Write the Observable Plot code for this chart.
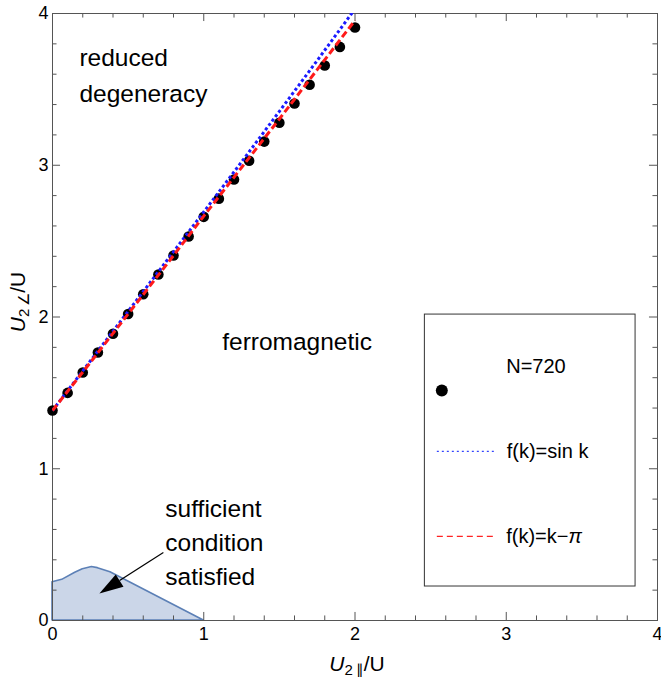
<!DOCTYPE html>
<html><head><meta charset="utf-8">
<script src="https://cdn.jsdelivr.net/npm/d3@7"></script>
<script src="https://cdn.jsdelivr.net/npm/@observablehq/plot@0.6"></script>
<style>
body{margin:0;background:#fff;font-family:"Liberation Sans",Arial,sans-serif}
#chart{position:relative;width:661px;height:677px}
</style>
</head><body><div id="chart"></div>
<script>
// N=720 numerical points
const pointsX = [0,0.1,0.2,0.3,0.4,0.5,0.6,0.7,0.8,0.9,1.0,1.1,1.2,1.3,1.4,1.5,1.6,1.7,1.8,1.9,2.0];
const pointsY = [1.384,1.50,1.634,1.766,1.89,2.02,2.15,2.28,2.405,2.53,2.66,2.78,2.906,3.03,3.156,3.28,3.407,3.53,3.657,3.78,3.908];
// f(k)=sin k
const sinX = [0,0.25,0.5,0.75,1.0,1.25,1.5,1.75,2.0];
const sinY = [1.384,1.71,2.037,2.364,2.692,3.022,3.355,3.69,4.03];
// f(k)=k-pi
const linX = [0,0.25,0.5,0.75,1.0,1.25,1.5,1.75,2.0];
const linY = [1.384,1.70,2.02,2.34,2.665,2.985,3.305,3.63,3.955];
// sufficient-condition region boundary
const regionX = [0,0.064,0.15,0.2,0.26,0.3,0.383,1.0];
const regionY = [0.252,0.268,0.315,0.338,0.352,0.345,0.318,0];
// ticks
const majorTicks = [0,1,2,3,4];
const tickLabels = ["0","1","2","3","4"];
const minorTicks = [0.2,0.4,0.6,0.8,1.2,1.4,1.6,1.8,2.2,2.4,2.6,2.8,3.2,3.4,3.6,3.8];

const points = pointsX.map((x,i)=>({x, y: pointsY[i]}));
const sinLine = sinX.map((x,i)=>({x, y: sinY[i]}));
const linLine = linX.map((x,i)=>({x, y: linY[i]}));
const region = regionX.map((x,i)=>({x, y: regionY[i]}));

const FONT = '"Liberation Sans", Arial, sans-serif';
const frameColor = "#555";
const MJ = 0.053, MN = 0.03;

const arrowHead = {
  draw(ctx, l, r) {
    ctx.moveTo(0, -l);
    ctx.lineTo(-r, 0);
    ctx.lineTo(r, 0);
    ctx.closePath();
  }
};
const tail = {x: 0.733, y: 0.448};
const tip = {x: 0.31, y: 0.178};
const ang = Math.atan2(tip.x - tail.x, tip.y - tail.y) * 180 / Math.PI;
const headLen = 24 / 151.5;
const len = Math.hypot(tip.x - tail.x, tip.y - tail.y);
const base = {x: tip.x - (tip.x - tail.x) / len * headLen, y: tip.y - (tip.y - tail.y) / len * headLen};

const chart = Plot.plot({
  width: 661, height: 677,
  marginLeft: 52, marginRight: 4, marginTop: 13, marginBottom: 57,
  style: {fontFamily: FONT, fontSize: "18px", color: "#000", background: "#fff"},
  x: {domain: [0,4], ticks: majorTicks, tickFormat: (d,i)=>tickLabels[i], label: null},
  y: {domain: [0,4], ticks: majorTicks, tickFormat: (d,i)=>tickLabels[i], label: null},
  marks: [
    // region
    Plot.areaY(region, {x: "x", y: "y", fill: "#cbd6e8", stroke: "#5c80b6", strokeWidth: 1.6}),
    // frame ticks
    Plot.ruleX(majorTicks, {x: d=>d, y1: 0, y2: MJ, stroke: frameColor}),
    Plot.ruleX(minorTicks, {x: d=>d, y1: 0, y2: MN, stroke: frameColor}),
    Plot.ruleX(majorTicks, {x: d=>d, y1: 4, y2: 4-MJ, stroke: frameColor}),
    Plot.ruleX(minorTicks, {x: d=>d, y1: 4, y2: 4-MN, stroke: frameColor}),
    Plot.ruleY(majorTicks, {y: d=>d, x1: 0, x2: MJ, stroke: frameColor}),
    Plot.ruleY(minorTicks, {y: d=>d, x1: 0, x2: MN, stroke: frameColor}),
    Plot.ruleY(majorTicks, {y: d=>d, x1: 4, x2: 4-MJ, stroke: frameColor}),
    Plot.ruleY(minorTicks, {y: d=>d, x1: 4, x2: 4-MN, stroke: frameColor}),
    Plot.frame({stroke: frameColor}),
    Plot.axisX({ticks: majorTicks, tickSize: 0, tickPadding: 7, fontSize: 18, label: null, tickFormat: (d,i)=>tickLabels[i]}),
    Plot.axisY({ticks: majorTicks, tickSize: 0, tickPadding: 4, fontSize: 18, label: null, tickFormat: (d,i)=>tickLabels[i]}),
    // data
    Plot.dot(points, {x: "x", y: "y", r: 5.3, fill: "#000"}),
    Plot.line(sinLine, {x: "x", y: "y", stroke: "#1a1aff", strokeWidth: 3, strokeDasharray: "3,2.5", strokeLinecap: "butt", clip: true}),
    Plot.line(linLine, {x: "x", y: "y", stroke: "#ff1a1a", strokeWidth: 3, strokeDasharray: "7,3.5", strokeLinecap: "butt", clip: true}),
    // annotations
    Plot.text(["reduced\ndegeneracy"], {x: 0.178, y: 3.822, text: d=>d, textAnchor: "start", lineAnchor: "top", lineHeight: 1.46, fontSize: 24.5, fill: "#000"}),
    Plot.text(["ferromagnetic"], {x: 1.122, y: 1.90, text: d=>d, textAnchor: "start", lineAnchor: "top", fontSize: 24.5, fill: "#000"}),
    Plot.text(["sufficient\ncondition\nsatisfied"], {x: 0.746, y: 0.844, text: d=>d, textAnchor: "start", lineAnchor: "top", lineHeight: 1.4, fontSize: 24.5, fill: "#000"}),
    Plot.link([0], {x1: tail.x, y1: tail.y, x2: base.x, y2: base.y, stroke: "#000", strokeWidth: 1.2}),
    Plot.vector([0], {x: tip.x, y: tip.y, anchor: "end", length: 24, rotate: ang, shape: arrowHead, r: 7.2, fill: "#000", stroke: "none"}),
    // legend box
    Plot.rect([0], {x1: 2.462, x2: 3.855, y1: 0.224, y2: 2.016, fill: "#fff", stroke: "#333", strokeWidth: 1}),
    Plot.dot([0], {x: 2.574, y: 1.516, r: 6, fill: "#000"}),
    Plot.text(["N=720"], {x: 3.0, y: 1.67, text: d=>d, textAnchor: "start", fontSize: 20, fill: "#000"}),
    Plot.link([0], {x1: 2.541, x2: 2.93, y1: 1.114, y2: 1.114, stroke: "#3344ff", strokeWidth: 1.3, strokeDasharray: "2,3", strokeLinecap: "butt"}),
    Plot.text(["f(k)=sin k"], {x: 3.003, y: 1.114, text: d=>d, textAnchor: "start", fontSize: 20, fill: "#000"}),
    Plot.link([0], {x1: 2.541, x2: 2.93, y1: 0.554, y2: 0.554, stroke: "#ff2222", strokeWidth: 1.3, strokeDasharray: "6,4", strokeLinecap: "butt"})
  ]
});
document.getElementById("chart").appendChild(chart);

// rich text labels
const sx = chart.scale("x"), sy = chart.scale("y");
const svg = d3.select(chart);
// legend label with italic pi
const lt = svg.append("text").attr("x", sx.apply(3.003)).attr("y", sy.apply(0.554)).attr("dy", "0.35em")
  .attr("text-anchor", "start")
  .attr("font-size", 20).attr("font-family", FONT).attr("fill", "#000");
lt.append("tspan").text("f(k)=k\u2212");
lt.append("tspan").attr("font-style", "italic").text("\u03c0");

// x axis label
const xl = svg.append("text").attr("x", 357).attr("y", 671).attr("text-anchor", "middle")
  .attr("font-size", 21).attr("font-family", FONT).attr("fill", "#000");
xl.append("tspan").attr("font-style", "italic").text("U");
xl.append("tspan").attr("font-size", 15).attr("dy", 4).text("2\u2009\u2225");
xl.append("tspan").attr("dy", -4).text("/U");

// y axis label
const yl = svg.append("text").attr("transform", "translate(25,302) rotate(-90)").attr("text-anchor", "middle")
  .attr("font-size", 21).attr("font-family", FONT).attr("fill", "#000");
yl.append("tspan").attr("font-style", "italic").text("U");
yl.append("tspan").attr("font-size", 15).attr("dy", 4).text("2\u2009\u2220");
yl.append("tspan").attr("dy", -4).text("/U");
</script>
</body></html>
